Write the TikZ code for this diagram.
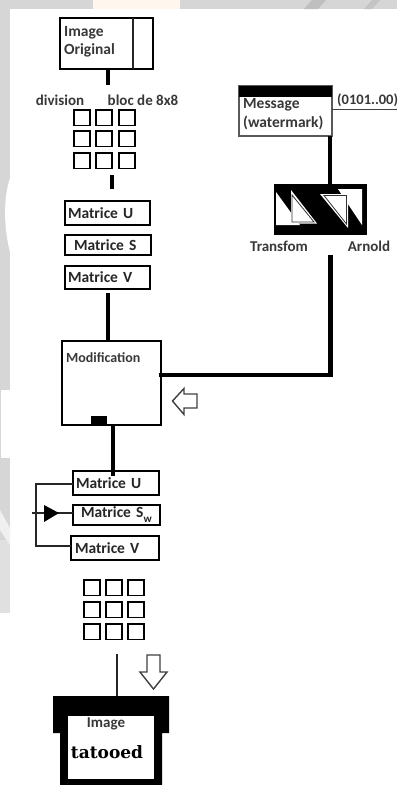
\documentclass[tikz,border=0pt]{standalone}
\usepackage{fontspec}
\setmainfont{Carlito}
\newfontfamily\tatfont{DejaVu Serif}
\tikzset{
  x=1pt,y=-1pt,
  box/.style={draw=black,line width=1.8pt,fill=white,outer sep=0pt,inner sep=0pt,anchor=north west,align=left},
  svdbox/.style={box,font=\fontsize{15.5}{18}\selectfont\bfseries,text=black!85},
  cell/.style={draw=black,line width=1.6pt,fill=white,outer sep=0pt,inner sep=0pt,minimum width=16pt,minimum height=15.5pt,anchor=north west},
  thick link/.style={draw=black,line width=4.6pt},
  thin link/.style={draw=black!85,line width=1.6pt},
  lab/.style={font=\fontsize{15}{15}\selectfont\bfseries,text=black!78,inner sep=0pt},
  hollow/.style={draw=black!75,line width=1.4pt,fill=white},
}
\begin{document}
\begin{tikzpicture}
\useasboundingbox (0,0) rectangle (397,785);
% page background remains
\fill[white] (0,0) rectangle (397,785);
\fill[black!16] (0,0) rectangle (397,9);
\fill[black!16] (0,9) rectangle (10,540);
\fill[black!12] (0,540) rectangle (10,613);
\fill[orange!7] (93,0) rectangle (180,9);
\fill[black!25] (304,9) -- (312,0) -- (326,0) -- (318,9) -- cycle;
\fill[black!23] (364,9) -- (372,0) -- (380,0) -- (372,9) -- cycle;
\fill[white] (10,178) .. controls (4,195) and (3,225) .. (10,252) -- cycle;
\fill[white] (1,390) rectangle (10,458);
\fill[black!6] (0,510) -- (10,528) -- (10,545) -- (0,530) -- cycle;

% Image original
\node[box,minimum width=93pt,minimum height=51pt] (orig) at (60,18) {};
\coordinate (origdiv) at (133,18);
\draw[thin link] (origdiv) -- (origdiv |- orig.south);
\node[lab,font=\fontsize{15.5}{18}\selectfont\bfseries,align=left,anchor=north west] (origtxt) at (64,26) {Image\\Original};
\coordinate (gridAtop) at (108,85);
\draw[thick link] (orig.south -| gridAtop) -- (gridAtop);

\node[lab] (divis) at (60,100) {division};
\node[lab] (bloc) at (143,100) {bloc de 8x8};

% first grid
\foreach \c/\x in {1/74,2/96,3/119}
  \foreach \r/\y in {1/110,2/131,3/153}
    \node[cell] (a\c\r) at (\x,\y) {};
\coordinate (gridAout) at (112,175);
\coordinate (mUin) at (112,189);
\draw[thick link] (gridAout) -- (mUin);

% SVD
\node[svdbox,text width=85pt,minimum height=24pt] (mu) at (65,201) {\hspace*{3pt}Matrice U};
\node[svdbox,text width=86pt,minimum height=20pt] (ms) at (65,235) {\hspace*{9pt}Matrice S};
\node[svdbox,text width=85pt,minimum height=23pt] (mv) at (65,266) {\hspace*{3pt}Matrice V};
\coordinate (mvout) at (108,293);

% Modification
\node[box,line width=1.5pt,minimum width=99pt,minimum height=84pt] (mod) at (62,341) {};
\node[lab,font=\fontsize{14}{14}\selectfont\bfseries,anchor=west] (modtxt) at (66,358) {Modification};
\draw[thick link] (mvout) -- (mvout |- mod.north);
\fill[black] (91,416) rectangle (107,425);

% Message
\node[box,line width=1.2pt,draw=black!65,minimum width=93pt,minimum height=50pt] (msg) at (239,86) {};
\fill[black] (238.5,86) rectangle (332,97);
\node[lab,font=\fontsize{15.5}{19}\selectfont\bfseries,align=left,anchor=north west] (msgtxt) at (243,98) {Message\\(watermark)};
\coordinate (bitsend) at (397,109);
\draw[black!75,line width=1pt] (msg.east |- bitsend) -- (bitsend);
\node[lab,font=\fontsize{14.5}{15}\selectfont\bfseries,anchor=west] (bits) at (337,100) {(0101..00)};

% Arnold
\node[draw=black,fill=black,line width=0pt,outer sep=0pt,inner sep=0pt,minimum width=92pt,minimum height=50pt,anchor=north west] (arn) at (274,184) {};
\fill[white] (276,192) -- (276,225) -- (300,225) -- cycle;
\fill[white] (291,190) -- (291,223.5) -- (317,223.5) -- cycle;
\draw[black!80,line width=.8pt,fill=white] (292,195) -- (292,222) -- (314,222) -- cycle;
\fill[white] (338,189) -- (362,189) -- (362,225) -- cycle;
\fill[white] (320,194) -- (348,194) -- (348,228) -- cycle;
\draw[black!80,line width=.8pt,fill=white] (324,195.5) -- (346.5,195.5) -- (346.5,224) -- cycle;
\coordinate (msgx) at (330,136);
\draw[thick link,line width=4pt] (msgx) -- (msgx |- arn.north);
\node[lab] (tr) at (279,246) {Transfom};
\node[lab] (ar) at (369,246) {Arnold};
\coordinate (arnout) at (330.5,257);
\coordinate (corner) at (330.5,375);
\draw[thick link,line cap=rect] (arnout) -- (corner) -- (corner -| mod.east);

% hollow left arrow
\draw[hollow] (172.5,401) -- (184,388.5) -- (184,394) -- (197,394) -- (197,408) -- (184,408) -- (184,414.5) -- cycle;

% second SVD
\node[svdbox,text width=86pt,minimum height=24pt] (mu2) at (73,471) {\hspace*{3pt}Matrice U};
\node[svdbox,text width=87pt,minimum height=20pt] (ms2) at (73,505) {\hspace*{8pt}Matrice S\raisebox{-5pt}{\fontsize{11}{11}\selectfont w}};
\node[svdbox,text width=88pt,minimum height=24pt] (mv2) at (71,536) {\hspace*{4pt}Matrice V};
\coordinate (modout) at (113,425);
\draw[thick link] (modout) -- (113,476);
\coordinate (brkT) at (36,484);
\coordinate (brkB) at (36,546);
\coordinate (midL) at (32,513);
\draw[thin link] (mu2.west |- brkT) -- (brkT) -- (brkB) -- (mv2.west |- brkB);
\draw[thin link] (midL) -- (midL -| ms2.west);
\fill[black] (44,505) -- (59,513) -- (44,522) -- cycle;

% second grid
\foreach \c/\x in {1/84,2/106,3/128}
  \foreach \r/\y in {1/580,2/602,3/624}
    \node[cell] (b\c\r) at (\x,\y) {};

% Image tatooed
\coordinate (barTop) at (117,696);
\coordinate (lineTop) at (117,654);
\draw[black!85,line width=2.4pt] (lineTop) -- (barTop);
\fill[black] (53,696) -- (169,696) -- (169,733) -- (162,733) -- (162,785) -- (60,785) -- (60,733) -- (53,733) -- cycle;
\node[fill=white,outer sep=0pt,inner sep=0pt,minimum width=86pt,minimum height=63pt,anchor=north west] (tat) at (68,716) {};
\node[lab] (tat1) at (106,723.5) {Image};
\node[font=\fontsize{17}{20}\selectfont\tatfont\bfseries,text=black,inner sep=0pt] (tat2) at (107,752) {tatooed};

% hollow down arrow
\draw[hollow] (147,655) -- (160,655) -- (160,672) -- (167,672) -- (153.5,689) -- (140,672) -- (147,672) -- cycle;
\end{tikzpicture}
\end{document}
